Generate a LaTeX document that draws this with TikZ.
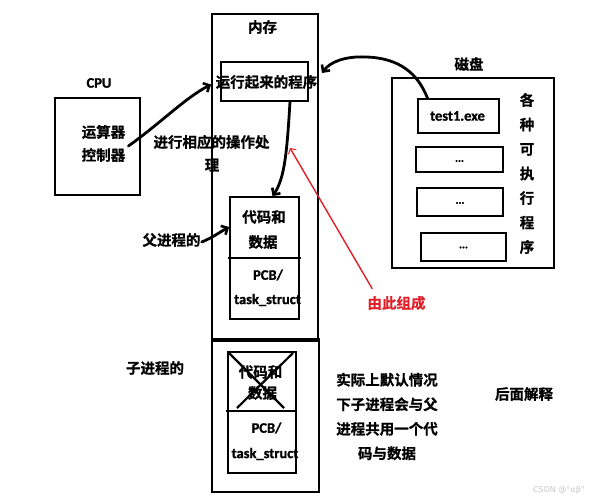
\documentclass[tikz,border=0pt]{standalone}
\usepackage{fontspec}
\setmainfont{Carlito}[BoldFont={Carlito Bold}, BoldFeatures={FakeBold=1.2}]
\newfontfamily\cjk{Noto Sans CJK SC}[BoldFont={Noto Sans CJK SC Bold}, BoldFeatures={FakeBold=0.8}]
\newfontfamily\wm{DejaVu Sans}
\usetikzlibrary{arrows.meta}
\definecolor{redline}{RGB}{226,30,40}
\tikzset{
  box/.style={draw, line width=1.8pt, inner sep=0pt, minimum width=#1},
  zh/.style={font=\cjk\bfseries\fontsize{14.5}{17}\selectfont, inner sep=0pt},
  en/.style={font=\bfseries\fontsize{14.5}{17}\selectfont, inner sep=0pt},
  hand/.style={line width=2.8pt, line cap=round, line join=round, -{Straight Barb[length=5pt,width=10pt,line width=2.6pt]}},
  thinline/.style={line width=1.6pt},
}
\begin{document}
\begin{tikzpicture}[x=1pt,y=-1pt]
\useasboundingbox[fill=white] (0,0) rectangle (595,500);
% memory
\node[box=106, minimum height=325] (memtop) at (265,176.5) {};
\node[box=107, minimum height=153] (memlow) at (265.5,415.5) {};
\draw[line width=3.5pt] (memtop.south west) -- (memtop.south east);
\node[zh] (memlabel) at (262.5,27) {内存};
\node[box=87, minimum height=39] (run) at (264.5,81.5) {};
\node[zh] (runtext) at (266.5,82) {运行起来的程序};
% CPU
\node[en] (cpulabel) at (99,83) {CPU};
\node[box=85, minimum height=97] (cpu) at (97.5,146.5) {};
\node[zh] (alu) at (103.5,132) {运算器};
\node[zh] (ctrl) at (103.5,155) {控制器};
\node[zh] (op1) at (211.5,142) {进行相应的操作处};
\node[zh] (op2) at (212,165) {理};
% parent process
\node[box=69, minimum height=122] (parent) at (264.5,258) {};
\draw[thinline] (228,258) -- (301,258);
\node[zh] (pcode1) at (264,217) {代码和};
\node[zh] (pcode2) at (263,242) {数据};
\node[en] (ppcb1) at (268,275) {PCB/};
\node[en] (ppcb2) at (267.5,300) {task\_struct};
\node[zh] (fu) at (171.5,240) {父进程的};
% child process
\node[box=68, minimum height=121] (child) at (262,412.5) {};
\draw[thinline] (226,411) -- (297,411);
\node[zh] (ccode1) at (260.5,372) {代码和};
\node[zh] (ccode2) at (262.5,393) {数据};
\node[en] (cpcb1) at (266.5,428) {PCB/};
\node[en] (cpcb2) at (265,454) {task\_struct};
\draw[line width=2.2pt] (229,353) -- (284,408);
\draw[line width=2.2pt] (237,408) -- (293,353);
\node[zh] (zi) at (155,368) {子进程的};
\node[zh, align=center, font=\cjk\bfseries\fontsize{14.5}{24.5}\selectfont] (note) at (387,416.5) {实际上默认情况\\下子进程会与父\\进程共用一个代\\码与数据};
\node[zh] (later) at (524,394) {后面解释};
% disk
\node[zh] (disklabel) at (469,64) {磁盘};
\node[box=162, minimum height=190] (disk) at (473,173) {};
\node[box=81, minimum height=34] (test) at (458.5,116) {};
\node[en] (testtext) at (457.5,116) {test1.exe};
\node[box=87, minimum height=25] (d1) at (459.5,159.5) {};
\node[box=86, minimum height=28] (d2) at (460,202) {};
\node[box=85, minimum height=28] (d3) at (463.5,247) {};
\node[font=\bfseries\fontsize{11}{12}\selectfont, inner sep=0pt] (d1t) at (459.5,161) {...};
\node[font=\bfseries\fontsize{11}{12}\selectfont, inner sep=0pt] (d2t) at (460,203) {...};
\node[font=\bfseries\fontsize{11}{12}\selectfont, inner sep=0pt] (d3t) at (463.5,247.5) {...};
\node[zh, align=center, font=\cjk\bfseries\fontsize{14.5}{24.5}\selectfont] (vert) at (527,173.5) {各\\种\\可\\执\\行\\程\\序};
% red label
\node[zh, text=redline] (youci) at (396.5,303) {由此组成};
% connectors
\coordinate (diskend) at (322,73);
\coordinate (redend) at (290,148);
\draw[hand] ([xshift=3pt,yshift=9pt]ctrl.east) .. controls (162,122) and (185,98) .. ([yshift=-3pt]memtop.west |- run.west);
\draw[hand] ([xshift=25.5pt]run.south) .. controls (287,150) and (285,178) .. ([xshift=8pt]parent.north);
\draw[hand] ([xshift=1pt,yshift=-2pt]fu.east) .. controls (212,238) and (220,232) .. ([yshift=31pt]parent.west);
\draw[hand] ([xshift=-31pt]test.north) .. controls (418,74) and (400,58) .. (366,57) .. controls (345,56) and (330,62) .. (diskend);
\draw[redline, line width=1.4pt, -{Straight Barb[length=4pt,width=9pt,line width=1pt]}] ([xshift=5pt,yshift=7pt]youci.north west) -- (redend);
% watermark
\node[font=\wm\fontsize{8}{10}\selectfont, text=black!22, inner sep=0pt] (mark) at (559,490) {CSDN @°αβ°};
\end{tikzpicture}
\end{document}
